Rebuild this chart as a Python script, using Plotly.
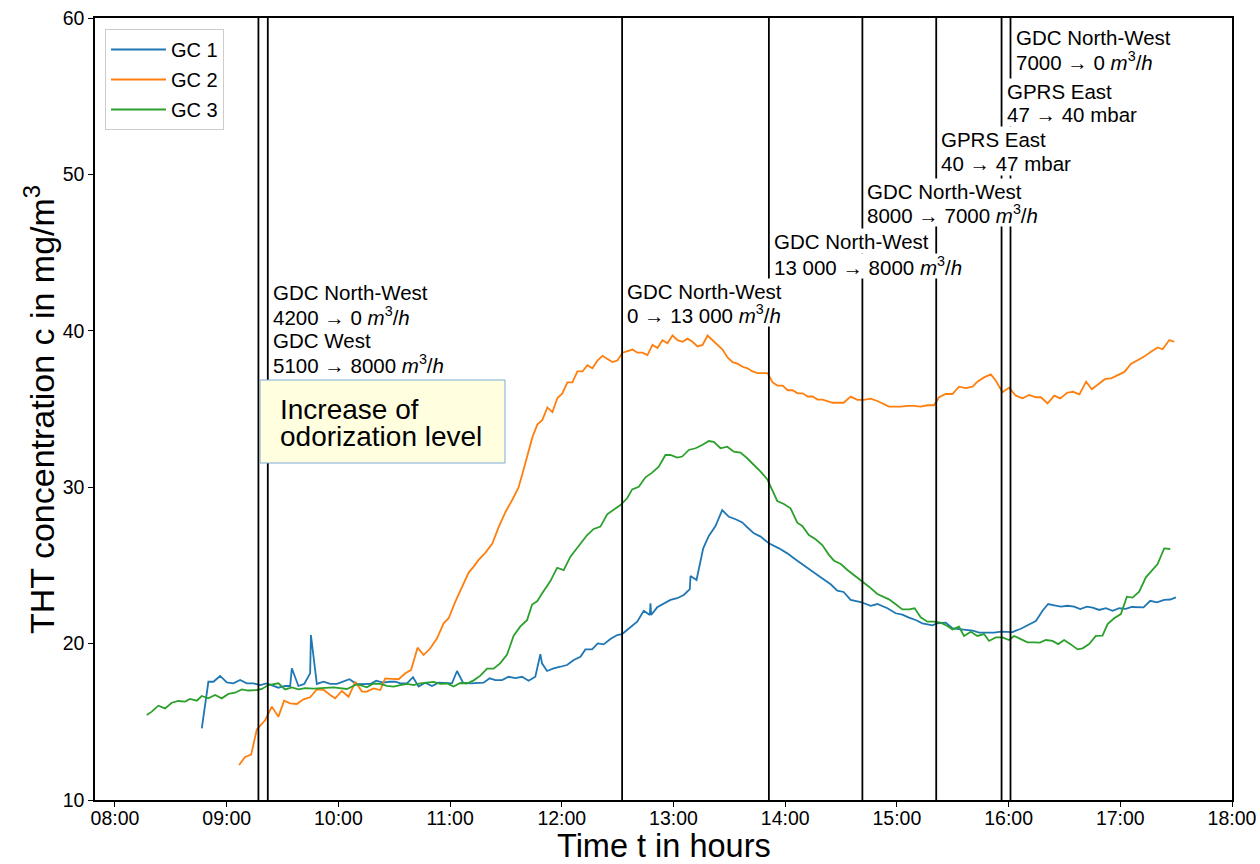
import pandas as pd
import plotly.graph_objects as go

# ---------------- data (time in decimal hours, concentration in mg/m^3) ----------------
gc1_hours = [8.777, 8.836, 8.881, 8.941, 9.001, 9.060, 9.120, 9.180, 9.239, 9.299, 9.359, 9.404,
             9.463, 9.523, 9.568, 9.583, 9.642, 9.694, 9.747, 9.754, 9.807, 9.866, 9.927, 9.987,
             10.046, 10.099, 10.166, 10.225, 10.285, 10.339, 10.399, 10.458, 10.509, 10.554,
             10.614, 10.668, 10.718, 10.778, 10.838, 10.897, 10.957, 11.017, 11.062, 11.116,
             11.181, 11.241, 11.300, 11.354, 11.405, 11.465, 11.524, 11.584, 11.644, 11.703,
             11.763, 11.808, 11.823, 11.868, 11.927, 11.987, 12.047, 12.107, 12.167, 12.211,
             12.271, 12.322, 12.375, 12.435, 12.496, 12.540, 12.615, 12.675, 12.734, 12.788,
             12.794, 12.800, 12.854, 12.913, 12.973, 13.033, 13.092, 13.146, 13.152, 13.206,
             13.266, 13.316, 13.376, 13.436, 13.496, 13.556, 13.616, 13.660, 13.720, 13.780,
             13.854, 13.944, 14.019, 14.093, 14.168, 14.243, 14.317, 14.407, 14.467, 14.523,
             14.586, 14.676, 14.765, 14.825, 14.915, 14.989, 15.049, 15.108, 15.168, 15.228,
             15.318, 15.362, 15.437, 15.497, 15.572, 15.631, 15.678, 15.736, 15.811, 15.871,
             15.930, 15.990, 16.035, 16.109, 16.169, 16.244, 16.304, 16.354, 16.409, 16.468,
             16.528, 16.587, 16.641, 16.701, 16.752, 16.811, 16.871, 16.931, 16.991, 17.050,
             17.101, 17.155, 17.208, 17.268, 17.328, 17.393, 17.447, 17.498]
gc1_values = [14.58, 17.56, 17.56, 17.93, 17.52, 17.46, 17.67, 17.46, 17.46, 17.35, 17.46, 17.35,
              17.18, 17.29, 17.29, 18.42, 17.29, 17.42, 18.10, 20.55, 17.42, 17.56, 17.42, 17.42,
              17.56, 17.72, 17.40, 17.42, 17.42, 17.63, 17.50, 17.56, 17.56, 17.46,
              17.46, 17.85, 17.25, 17.50, 17.29, 17.50, 17.46, 17.46, 18.25, 17.50,
              17.46, 17.46, 17.50, 17.78, 17.67, 17.67, 17.88, 17.80, 17.88, 17.63,
              17.88, 19.32, 18.74, 18.25, 18.42, 18.52, 18.63, 18.95, 19.16, 19.63,
              19.63, 20.01, 19.95, 20.29, 20.55, 20.61, 21.08, 21.40, 22.10, 21.83,
              22.58, 21.83, 22.32, 22.58, 22.79, 22.90, 23.11, 23.49, 24.32, 24.07,
              26.09, 26.88, 27.52, 28.54, 28.11, 27.95, 27.75, 27.44, 27.05, 26.84,
              26.41, 26.09, 25.77, 25.38, 24.98, 24.60, 24.24, 23.79, 23.38, 23.30,
              22.79, 22.66, 22.42, 22.53, 22.26, 21.94, 21.85, 21.66, 21.51, 21.30,
              21.17, 21.30, 21.34, 20.98, 20.91, 20.85, 20.83, 20.70, 20.70, 20.70,
              20.76, 20.74, 20.74, 20.95, 21.17, 21.44, 22.10, 22.53, 22.45, 22.36,
              22.42, 22.36, 22.21, 22.36, 22.30, 22.15, 22.26, 22.10, 22.26, 22.22,
              22.34, 22.32, 22.32, 22.74, 22.64, 22.79, 22.82, 22.96]

gc2_hours = [9.111, 9.165, 9.219, 9.270, 9.344, 9.404, 9.463, 9.514, 9.568, 9.628, 9.687, 9.747,
             9.807, 9.866, 9.927, 9.971, 10.031, 10.091, 10.151, 10.211, 10.255, 10.315, 10.375,
             10.419, 10.479, 10.539, 10.599, 10.650, 10.709, 10.763, 10.823, 10.883, 10.942,
             10.987, 11.047, 11.107, 11.166, 11.211, 11.255, 11.315, 11.378, 11.432, 11.495,
             11.557, 11.611, 11.647, 11.692, 11.737, 11.781, 11.826, 11.871, 11.916, 11.961,
             12.005, 12.050, 12.095, 12.140, 12.185, 12.229, 12.274, 12.319, 12.364, 12.409,
             12.453, 12.498, 12.543, 12.588, 12.633, 12.677, 12.722, 12.767, 12.812, 12.857,
             12.901, 12.946, 12.991, 13.036, 13.081, 13.125, 13.170, 13.215, 13.260, 13.305,
             13.349, 13.394, 13.439, 13.484, 13.529, 13.573, 13.618, 13.663, 13.708, 13.753,
             13.797, 13.842, 13.887, 13.932, 13.977, 14.022, 14.066, 14.111, 14.156, 14.201,
             14.245, 14.290, 14.335, 14.380, 14.425, 14.470, 14.523, 14.586, 14.646, 14.704,
             14.765, 14.825, 14.929, 15.034, 15.094, 15.153, 15.213, 15.273, 15.332, 15.377,
             15.437, 15.497, 15.556, 15.618, 15.677, 15.721, 15.780, 15.841, 15.886, 15.945,
             16.004, 16.065, 16.125, 16.184, 16.244, 16.290, 16.349, 16.409, 16.463, 16.523,
             16.577, 16.634, 16.694, 16.745, 16.804, 16.864, 16.918, 16.977, 17.037, 17.095,
             17.156, 17.214, 17.274, 17.334, 17.379, 17.439, 17.484]
gc2_values = [12.24, 12.75, 12.90, 14.52, 15.10, 15.97, 15.33, 16.35, 16.18, 16.14, 16.44, 16.57,
              17.07, 17.05, 16.71, 16.50, 16.97, 16.60, 17.56, 16.93, 16.93, 17.14, 17.03,
              17.78, 17.75, 17.72, 18.10, 18.31, 19.74, 19.27, 19.70, 20.34, 21.30,
              21.62, 22.68, 23.64, 24.54, 24.92, 25.35, 25.80, 26.40, 27.40, 28.40,
              29.20, 29.95, 30.85, 32.10, 33.20, 34.00, 34.30, 35.10, 34.80, 35.70,
              36.00, 36.70, 36.70, 37.40, 37.40, 37.80, 37.60, 38.10, 38.40, 38.20,
              38.00, 38.10, 38.60, 38.70, 38.80, 38.60, 38.60, 38.45, 39.10, 38.90,
              39.40, 39.20, 39.70, 39.40, 39.30, 39.50, 39.30, 39.00, 39.10, 39.70,
              39.40, 39.10, 38.80, 38.30, 38.00, 37.90, 37.70, 37.60, 37.40, 37.30,
              37.30, 37.30, 36.70, 36.50, 36.50, 36.20, 36.20, 36.00, 36.00, 35.80,
              35.80, 35.60, 35.60, 35.50, 35.40, 35.40, 35.40, 35.79, 35.58, 35.58,
              35.66, 35.51, 35.15, 35.15, 35.20, 35.20, 35.15, 35.24, 35.24, 35.75,
              35.96, 35.96, 36.43, 36.33, 36.43, 36.75, 37.02, 37.21, 36.81, 36.07,
              36.36, 35.85, 35.68, 35.90, 35.75, 35.75, 35.36, 35.85, 35.68, 36.04,
              36.10, 35.94, 36.75, 36.26, 36.60, 36.92, 36.96, 37.17, 37.37, 37.88,
              38.13, 38.35, 38.66, 38.94, 38.82, 39.41, 39.30]

gc3_hours = [8.284, 8.329, 8.388, 8.448, 8.508, 8.567, 8.627, 8.672, 8.732, 8.777, 8.836, 8.896,
             8.956, 9.015, 9.075, 9.135, 9.194, 9.270, 9.315, 9.374, 9.463, 9.523, 9.583, 9.642,
             9.703, 9.777, 9.956, 10.016, 10.076, 10.166, 10.255, 10.315, 10.375, 10.434,
             10.494, 10.554, 10.614, 10.673, 10.733, 10.793, 10.852, 10.912, 10.972, 11.031,
             11.091, 11.151, 11.211, 11.271, 11.331, 11.390, 11.450, 11.510, 11.569, 11.629,
             11.689, 11.734, 11.779, 11.823, 11.898, 11.958, 12.017, 12.077, 12.167, 12.227,
             12.286, 12.346, 12.406, 12.465, 12.525, 12.585, 12.630, 12.689, 12.749, 12.809,
             12.868, 12.928, 12.973, 13.033, 13.078, 13.137, 13.197, 13.257, 13.316, 13.361,
             13.421, 13.481, 13.540, 13.600, 13.660, 13.720, 13.780, 13.840, 13.869, 13.929,
             13.988, 14.048, 14.108, 14.153, 14.212, 14.272, 14.332, 14.393, 14.437, 14.498,
             14.557, 14.617, 14.676, 14.750, 14.825, 14.929, 14.989, 15.049, 15.108, 15.159,
             15.213, 15.273, 15.332, 15.392, 15.452, 15.497, 15.556, 15.601, 15.661, 15.721,
             15.780, 15.825, 15.885, 15.945, 16.004, 16.049, 16.109, 16.169, 16.226, 16.280,
             16.333, 16.393, 16.444, 16.497, 16.557, 16.617, 16.662, 16.721, 16.781, 16.841,
             16.886, 16.945, 17.005, 17.059, 17.110, 17.169, 17.229, 17.283, 17.334, 17.393,
             17.447]
gc3_values = [15.43, 15.65, 16.03, 15.86, 16.22, 16.33, 16.29, 16.46, 16.35, 16.65, 16.50, 16.71,
              16.50, 16.78, 16.86, 17.07, 17.00, 17.03, 17.10, 17.35, 17.46, 17.07, 17.20, 17.07,
              17.15, 17.12, 17.20, 17.15, 17.10, 17.40, 17.20, 17.45, 17.42, 17.30,
              17.25, 17.35, 17.42, 17.35, 17.45, 17.50, 17.55, 17.42, 17.45, 17.25,
              17.48, 17.45, 17.65, 17.95, 18.40, 18.40, 18.75, 19.30, 20.50, 21.10,
              21.50, 22.50, 22.70, 23.20, 24.00, 24.85, 24.70, 25.56, 26.41, 26.94,
              27.33, 27.48, 28.27, 28.54, 28.86, 29.29, 29.86, 30.03, 30.63, 30.93,
              31.31, 32.06, 32.06, 31.89, 31.96, 32.38, 32.49, 32.70, 32.95, 32.90,
              32.49, 32.59, 32.27, 32.21, 31.85, 31.42, 31.00, 30.50, 30.03, 29.12,
              28.93, 28.65, 27.73, 27.52, 26.94, 26.67, 26.30, 25.66, 25.30, 25.09,
              24.71, 24.39, 24.07, 23.64, 23.17, 22.83, 22.51, 22.19, 22.19, 22.26,
              21.68, 21.40, 21.40, 21.34, 21.13, 20.91, 21.08, 20.49, 20.76, 20.49,
              20.61, 20.17, 20.40, 20.40, 20.23, 20.49, 20.29, 20.08, 20.08, 20.06,
              20.23, 20.17, 19.97, 20.23, 19.95, 19.63, 19.70, 19.97, 20.49, 20.51,
              21.25, 21.62, 21.89, 23.00, 22.94, 23.32, 24.24, 24.70, 25.09, 26.09,
              26.05]

series_names = ["GC 1", "GC 2", "GC 3"]
series_colors = ["#1f77b4", "#ff7f0e", "#2ca02c"]

# event markers (vertical lines) in decimal hours
event_hours = [9.284, 9.368, 12.540, 13.854, 14.691, 15.352, 15.937, 16.017]

M3H = "<i>m</i><sup>3</sup>/<i>h</i>"
event_labels = [
    (9.368, ["GDC North-West", "4200 → 0 " + M3H, "GDC West", "5100 → 8000 " + M3H]),
    (12.540, ["GDC North-West", "0 → 13 000 " + M3H]),
    (13.854, ["GDC North-West", "13 000 → 8000 " + M3H]),
    (14.691, ["GDC North-West", "8000 → 7000 " + M3H]),
    (15.352, ["GPRS East", "40 → 47 mbar"]),
    (15.937, ["GPRS East", "47 → 40 mbar"]),
    (16.017, ["GDC North-West", "7000 → 0 " + M3H]),
]
odor_lines = ["Increase of", "odorization level"]
x_title = "Time t in hours"
y_title = "THT concentration c in mg/m<sup>3</sup>"

# ---------------- layout helpers (pixel geometry of the plot area) ----------------
PX_TOP, PX_BOTTOM, PX_LEFT, PX_RIGHT = 18, 800, 95, 1232


def py(ypix):
    return (PX_BOTTOM - ypix) / (PX_BOTTOM - PX_TOP)


def px(xpix):
    return (xpix - PX_LEFT) / (PX_RIGHT - PX_LEFT)


label_first_line_px = [291.5, 290.5, 241.5, 190.5, 139.0, 90.5, 37.0]
LINE_STEP = 24

base = pd.Timestamp("2021-01-01")


def to_time(hours):
    return base + pd.to_timedelta(hours, unit="h")


FONT = "Liberation Sans"

fig = go.Figure()
for name, color, hrs, vals in zip(series_names, series_colors,
                                  [gc1_hours, gc2_hours, gc3_hours],
                                  [gc1_values, gc2_values, gc3_values]):
    fig.add_trace(go.Scatter(x=to_time(hrs), y=vals, mode="lines", name=name,
                             legendgroup=name,
                             line=dict(color=color, width=1.8)))

shapes = []
for h in event_hours:
    t = to_time(h)
    shapes.append(dict(type="line", xref="x", yref="paper", x0=t, x1=t, y0=0, y1=1,
                       line=dict(color="black", width=1.8), layer="above"))
# highlighted box
shapes.append(dict(type="rect", xref="paper", yref="paper",
                   x0=px(260), x1=px(505), y0=py(463), y1=py(380),
                   fillcolor="#ffffe0", line=dict(color="#7eaad2", width=1), layer="above"))

annotations = []
for i, txt in enumerate(odor_lines):
    annotations.append(dict(xref="paper", yref="paper", x=px(278), y=py(409 + 28 * i),
                            xanchor="left", yanchor="middle", align="left", height=27,
                            text=txt, showarrow=False,
                            font=dict(family=FONT, size=28, color="black")))
for (h, lines), y0 in zip(event_labels, label_first_line_px):
    for i, txt in enumerate(lines):
        annotations.append(dict(xref="x", yref="paper", x=to_time(h), y=py(y0 + LINE_STEP * i),
                                xanchor="left", yanchor="middle", align="left", xshift=3,
                                height=22, text=txt, showarrow=False,
                                font=dict(family=FONT, size=20.5, color="black"),
                                bgcolor="white", borderpad=1))
# axis titles
annotations.append(dict(xref="paper", yref="paper", x=0.5, y=py(846),
                        xanchor="center", yanchor="middle", text=x_title, showarrow=False,
                        font=dict(family=FONT, size=32.5, color="black")))
annotations.append(dict(xref="paper", yref="paper", x=px(39), y=py(410),
                        xanchor="center", yanchor="middle", textangle=-90,
                        text=y_title, showarrow=False,
                        font=dict(family=FONT, size=34, color="black")))

fig.update_layout(
    width=1260, height=864,
    margin=dict(l=95, r=28, t=18, b=64, autoexpand=False),
    paper_bgcolor="white", plot_bgcolor="white",
    font=dict(family=FONT, size=19.5, color="black"),
    shapes=shapes, annotations=annotations,
    legend=dict(x=px(105), y=py(29), xanchor="left", yanchor="top",
                bgcolor="white", bordercolor="#cccccc", borderwidth=1,
                tracegroupgap=1, itemwidth=55,
                font=dict(family=FONT, size=20)),
    showlegend=True,
)
fig.update_xaxes(range=[to_time(7.821), to_time(18.0)], type="date",
                 tickformat="%H:%M", dtick=3600000, tick0=to_time(8.0),
                 showgrid=False, zeroline=False, automargin=False,
                 showline=True, linecolor="black", linewidth=1.5, mirror=True,
                 ticks="outside", ticklen=5, tickwidth=1.2, tickcolor="black",
                 ticklabelstandoff=-5,
                 tickfont=dict(family=FONT, size=19.5))
fig.update_yaxes(range=[10, 60], dtick=10, showgrid=False, zeroline=False, automargin=False,
                 showline=True, linecolor="black", linewidth=1.5, mirror=True,
                 ticks="outside", ticklen=5, tickwidth=1.2, tickcolor="black",
                 tickfont=dict(family=FONT, size=19.5))

fig.write_html("out.html")
